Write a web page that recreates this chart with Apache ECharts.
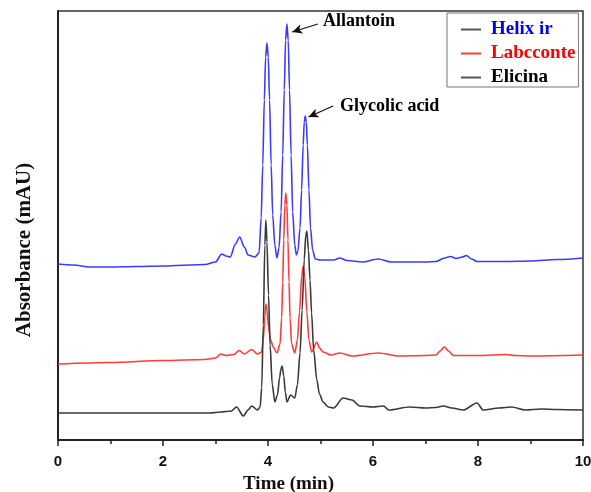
<!DOCTYPE html>
<html>
<head>
<meta charset="utf-8">
<script src="https://cdn.jsdelivr.net/npm/echarts@6/dist/echarts.min.js"></script>
<style>
html,body{margin:0;padding:0;background:#fff;}
#chart{width:591px;height:492px;}
</style>
</head>
<body>
<div id="chart"></div>
<script>
// Tick labels of the time axis (min)
var timeTicks = [0, 2, 4, 6, 8, 10];
var seriesNames = ['Helix ir', 'Labcconte', 'Elicina'];

// [time (min), absorbance (arbitrary mAU, stacked offsets)]
var helixData = [
  [0,176],[0.3,175],[0.6,173],[1.0,173],[1.5,173.5],[2.0,174],[2.5,175],[2.8,175.5],
  [3.0,178],[3.12,186],[3.2,184],[3.28,183],[3.38,196],[3.46,203],[3.55,193],[3.62,185],
  [3.75,183],[3.83,187],[3.87,222],[3.90,275],[3.93,340],[3.955,383],[3.98,397],[4.005,383],
  [4.03,340],[4.06,275],[4.09,225],[4.13,195],[4.17,182],[4.21,192],[4.25,228],[4.28,285],
  [4.31,350],[4.335,400],[4.36,416],[4.385,400],[4.41,350],[4.44,285],[4.47,228],[4.51,195],
  [4.54,185],[4.57,189],[4.61,212],[4.64,250],[4.67,295],[4.69,318],[4.71,324],[4.73,318],
  [4.75,295],[4.78,250],[4.81,212],[4.85,190],[4.90,181],[5.0,180],[5.25,180],[5.37,182],
  [5.5,179.5],[5.8,178],[6.1,181],[6.35,178],[7.0,178],[7.2,178.5],[7.36,182],[7.48,183.5],
  [7.58,181.5],[7.7,183],[7.78,184.5],[7.88,181],[7.98,178.5],[8.5,178.5],[9.0,179],
  [9.5,180.5],[10,182]
];
var labcconteData = [
  [0,76],[1,77.5],[2,79.5],[2.8,80.5],[3.0,82],[3.1,86],[3.2,84.5],[3.35,85.5],[3.45,89.5],
  [3.55,86],[3.69,90.5],[3.8,86],[3.88,88],[3.91,100],[3.94,124],[3.96,136],[3.98,130],
  [4.01,113],[4.05,100],[4.10,93],[4.17,87],[4.23,96],[4.26,122],[4.28,158],[4.30,200],
  [4.32,235],[4.34,247],[4.36,235],[4.38,200],[4.40,158],[4.42,122],[4.45,96],[4.51,87],
  [4.56,100],[4.60,128],[4.64,163],[4.67,174],[4.70,163],[4.74,128],[4.78,100],[4.83,88],
  [4.93,98],[4.98,92],[5.05,88],[5.2,85],[5.37,87],[5.6,84],[6.1,87],[6.5,84],[7.0,84.5],
  [7.2,85],[7.28,89],[7.36,93],[7.44,89],[7.53,84.5],[8.0,84.5],[8.53,85.5],[8.7,84.5],
  [9.0,84],[10,85]
];
var elicinaData = [
  [0,27],[1,27],[2,27],[2.9,27],[3.1,28],[3.3,29],[3.4,33],[3.53,24],[3.62,30],[3.69,34],
  [3.8,30],[3.85,33],[3.88,52],[3.91,115],[3.94,195],[3.96,220],[3.98,198],[4.01,145],
  [4.04,95],[4.08,56],[4.13,38],[4.18,45],[4.22,62],[4.25,72],[4.27,74],[4.30,64],[4.33,48],
  [4.36,38],[4.43,45],[4.51,42],[4.56,55],[4.61,87],[4.65,130],[4.69,180],[4.72,205],
  [4.74,209],[4.77,190],[4.80,160],[4.83,127],[4.87,90],[4.93,60],[4.98,46],[5.05,38],
  [5.15,33],[5.25,32],[5.43,42],[5.6,40],[5.75,34],[6.0,33],[6.2,34],[6.3,30],[6.7,33],
  [7.0,32],[7.2,32.5],[7.34,34],[7.5,32],[7.72,30],[7.98,37],[8.1,30],[8.4,32],[8.64,33],
  [8.9,30],[9.2,31],[9.5,30.5],[10,30]
];

// Peak annotations: [label, text anchor, arrow tail, arrow head]
var annotations = [
  ['Allantoin', [5.04, 419], [4.95, 416], [4.46, 408]],
  ['Glycolic acid', [5.36, 334], [5.24, 334], [4.77, 323]]
];

var serif = '"Liberation Serif","Times New Roman",serif';
var chart = echarts.init(document.getElementById('chart'), null, {renderer: 'canvas'});

var colors = ['#3b3bff', '#ff3b3b', '#3a3a3a'];
var textColors = ['#0000ff', '#ff0000', '#000000'];
var iconColors = ['#555555', '#ff3b3b', '#555555'];
var datasets = [helixData, labcconteData, elicinaData];

var series = seriesNames.map(function (n, i) {
  return {
    name: n,
    type: 'line',
    data: datasets[i],
    symbol: 'none',
    smooth: 0.3,
    smoothMonotone: 'x',
    lineStyle: {color: colors[i], width: 1.6},
    itemStyle: {color: colors[i]},
    z: 2 + i
  };
});

series[0].markLine = {
  silent: true,
  symbol: ['none', 'arrow'],
  symbolSize: [7, 10],
  label: {show: false},
  lineStyle: {color: '#111', width: 1.2, type: 'solid'},
  data: annotations.map(function (a) {
    return [{coord: a[2]}, {coord: a[3]}];
  })
};
series[0].markPoint = {
  silent: true,
  symbol: 'circle',
  symbolSize: 1,
  itemStyle: {color: 'rgba(0,0,0,0)'},
  label: {
    show: true, position: 'right', distance: 0, formatter: '{b}',
    fontFamily: serif, fontWeight: 'bold', fontSize: 18, color: '#000'
  },
  data: annotations.map(function (a) {
    return {name: a[0], coord: a[1]};
  })
};

var option = {
  animation: false,
  backgroundColor: '#ffffff',
  grid: {left: 58, right: 8, top: 11, bottom: 52, containLabel: false, outerBoundsMode: 'none',
         show: true, borderColor: '#333', borderWidth: 1.5},
  legend: {
    orient: 'vertical',
    left: 447, top: 13,
    padding: [7, 3, 0, 14],
    itemGap: 5,
    itemWidth: 20, itemHeight: 2,
    icon: 'rect',
    borderColor: '#777', borderWidth: 1,
    backgroundColor: '#fff',
    textStyle: {fontFamily: serif, fontWeight: 'bold', fontSize: 19, lineHeight: 19, padding: [0, 0, 0, 5]},
    data: seriesNames.map(function (n, i) {
      return {name: n, itemStyle: {color: iconColors[i]}, textStyle: {color: textColors[i]}};
    })
  },
  xAxis: {
    type: 'value', min: 0, max: 10, interval: 2,
    name: 'Time (min)', nameLocation: 'middle', nameGap: 35,
    nameTextStyle: {fontFamily: serif, fontWeight: 'bold', fontSize: 19, color: '#111', padding: [0, 64, 0, 0]},
    axisLine: {show: true, lineStyle: {color: '#222', width: 2}},
    axisTick: {show: true, inside: false, length: 6, lineStyle: {color: '#222', width: 1.5}},
    minorTick: {show: true, splitNumber: 2, length: 4, lineStyle: {color: '#222', width: 1.5}},
    axisLabel: {
      margin: 14, fontFamily: '"Liberation Sans",Arial,sans-serif', fontWeight: 'bold', fontSize: 15, color: '#111',
      formatter: function (v) { return timeTicks.indexOf(v) >= 0 ? String(v) : ''; }
    },
    splitLine: {show: false}
  },
  yAxis: {
    type: 'value', min: 0, max: 429,
    axisLine: {show: true, lineStyle: {color: '#222', width: 2}},
    axisTick: {show: false}, axisLabel: {show: false}, splitLine: {show: false}
  },
  graphic: [{
    type: 'text', x: 25, y: 250, rotation: Math.PI / 2,
    style: {
      text: 'Absorbance (mAU)', fontFamily: serif, fontWeight: 'bold', fontSize: 21,
      fill: '#111', align: 'center', verticalAlign: 'middle'
    }
  }],
  series: series
};
chart.setOption(option);
</script>
</body>
</html>
